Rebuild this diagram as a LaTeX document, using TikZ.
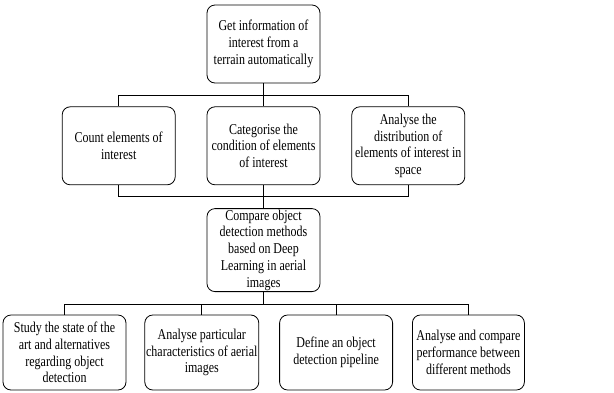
\documentclass[tikz,border=0pt]{standalone}
\usepackage{fontspec}
\setmainfont{Liberation Serif}[FakeStretch=0.8]
\usepackage{tikz}
\usetikzlibrary{positioning}

\begin{document}
\begin{tikzpicture}[
  box/.style={rectangle, rounded corners=8pt, draw=black, line width=0.8pt,
    fill=white, minimum width=113pt, minimum height=78pt, inner sep=0.5pt,
    font=\fontsize{15}{16.7}\selectfont, align=center},
  lowbox/.style={box, minimum height=75pt},
  link/.style={draw=black, line width=0.8pt},
  node distance=23pt and 31pt
]
\useasboundingbox (0,0) rectangle (614pt,-392pt);

%% Top — main goal
\node[box] (goal) at (263.5pt,-44pt) {Get information of\\interest from a\\terrain automatically};

%% Middle row — sub goals
\node[box, below=of goal]   (categ) {Categorise the\\condition of elements\\of interest};
\node[box, left=of categ]   (count) {Count elements of\\interest};
\node[box, right=of categ]  (distr) {Analyse the\\distribution of\\elements of interest in\\space};

%% Centre — specific goal
\node[box, below=of categ, minimum height=83pt] (compare)
  {Compare object\\detection methods\\based on Deep\\Learning in aerial\\images};

%% Bottom row — tasks
\node[lowbox, minimum width=123pt] (study) at (64.5pt,-352.5pt)
  {Study the state of the\\art and alternatives\\regarding object\\detection};
\node[lowbox, minimum width=114pt, right=18pt of study]  (charact)
  {Analyse particular\\characteristics of aerial\\images};
\node[lowbox, minimum width=113pt, right=20pt of charact] (pipeline)
  {Define an object\\detection pipeline};
\node[lowbox, minimum width=112pt, right=19pt of pipeline] (perform)
  {Analyse and compare\\performance between\\different methods};

%% Connectors
\draw[link] (goal.south) -- ++(0,-12pt) coordinate (split1) -| (count.north);
\draw[link] (split1) -| (distr.north);
\draw[link] (goal) -- (categ);
\draw[link] (count.south) -- ++(0,-11pt) -| (distr.south);
\draw[link] (categ) -- (compare);
\draw[link] (compare.south) -- ++(0,-12pt) coordinate (split3) -| (study.north);
\draw[link] (split3) -| (charact.north);
\draw[link] (split3) -| (pipeline.north);
\draw[link] (split3) -| (perform.north);

\end{tikzpicture}
\end{document}
